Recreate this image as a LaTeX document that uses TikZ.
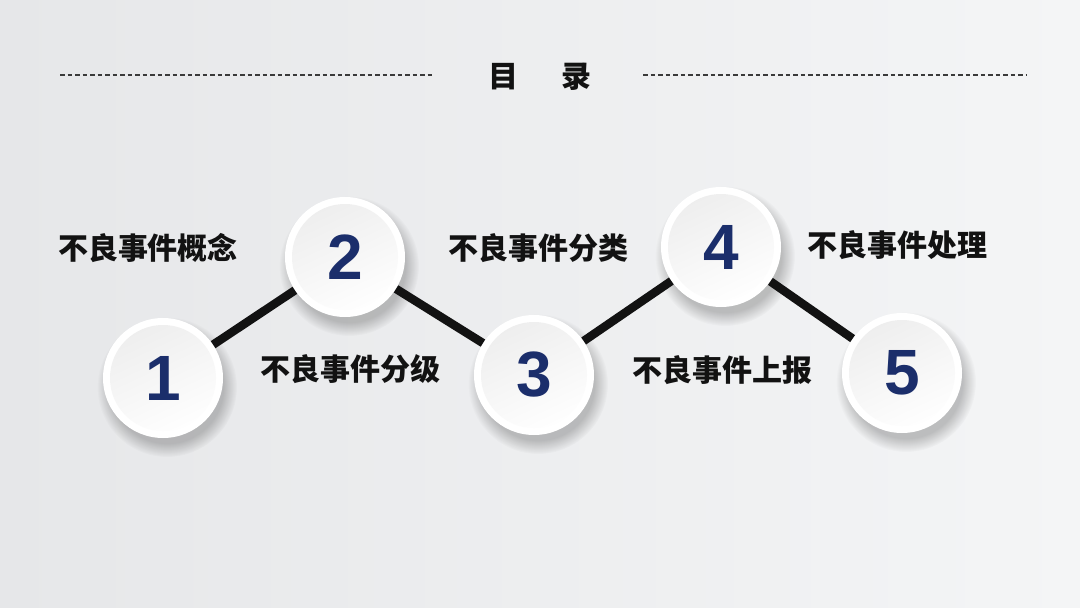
\documentclass[tikz,border=0pt]{standalone}
\usepackage{fontspec}
\setmainfont{Liberation Sans}
\newfontfamily\cjk{Noto Sans CJK SC}
\usetikzlibrary{positioning,calc,fadings}
\definecolor{TCNavy}{HTML}{1B2E6B}
\definecolor{TCInk}{HTML}{121212}
\definecolor{TCBgLeft}{HTML}{E6E7E9}
\definecolor{TCBgRight}{HTML}{F4F5F6}
\definecolor{TCRule}{HTML}{3A3A3A}
\tikzset{
  disc/.style={circle,minimum size=120pt,inner sep=0pt,fill=white,
               text=TCNavy,font=\fontsize{64}{64}\selectfont\bfseries,
               path picture={\shade[top color=black!7,bottom color=white,shading angle=25]
                 (path picture bounding box.center) circle[radius=53pt];}},
  discshadow/.style={fill=black,opacity=.22,path fading=circle with fuzzy edge 20 percent},
  joint/.style={TCInk,line width=8.5pt},
  topic/.style={text=TCInk,font=\cjk\bfseries\fontsize{30}{32}\selectfont},
  heading/.style={text=TCInk,font=\cjk\bfseries\fontsize{30}{32}\selectfont},
  rule/.style={TCRule,line width=1.3pt,dash pattern=on 4.5pt off 3pt},
}
\begin{document}
\begin{tikzpicture}[x=1pt,y=-1pt]
  \useasboundingbox (0,0) rectangle (1080,608);
  \shade[left color=TCBgLeft,right color=TCBgRight] (0,0) rectangle (1080,608);

  % title
  \node[heading] (title) at (540,77) {目\hspace{1.45em}录};
  \coordinate (ruleL) at (60,75);
  \coordinate (ruleLend) at (435,75);
  \coordinate (ruleRstart) at (643,75);
  \coordinate (ruleR) at (1027,75);
  \draw[rule] (ruleL) -- (ruleLend);
  \draw[rule] (ruleRstart) -- (ruleR);

  % steps
  \coordinate (p1) at (163,378);
  \coordinate (p2) at (345,257);
  \coordinate (p3) at (534,375);
  \coordinate (p4) at (721,247);
  \coordinate (p5) at (902,373);
  \foreach \i in {1,...,5}{
    \fill[discshadow] ($(p\i)+(4,9)$) circle[radius=70];
  }
  \foreach \i in {1,...,5}{
    \node[disc] (c\i) at (p\i) {\i};
  }
  \foreach \a/\b in {c1/c2,c2/c3,c3/c4,c4/c5}{
    \draw[joint] (\a) -- (\b);
  }

  % labels
  \node[topic] (l1) at (148,248) {不良事件概念};
  \node[topic] (l2) at (350,369) {不良事件分级};
  \node[topic] (l3) at (538,248) {不良事件分类};
  \node[topic] (l4) at (722,370) {不良事件上报};
  \node[topic] (l5) at (897,245) {不良事件处理};
\end{tikzpicture}
\end{document}
